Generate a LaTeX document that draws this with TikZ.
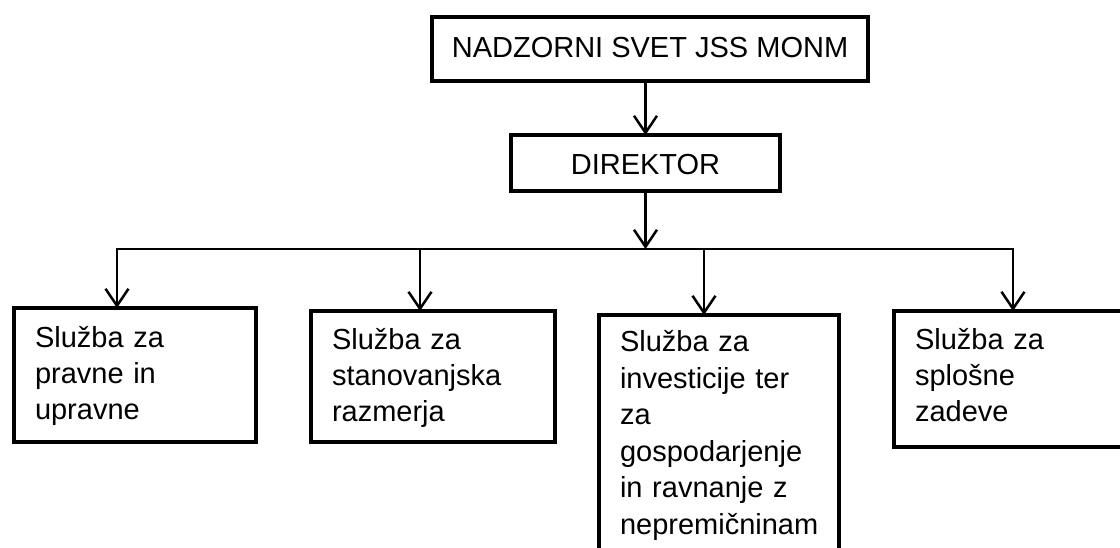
\documentclass[tikz,border=0pt]{standalone}
\usepackage{fontspec}
\setmainfont{Liberation Sans}
\usetikzlibrary{arrows.meta}
\begin{document}
\begin{tikzpicture}[x=1pt,y=-1pt,
  box/.style={draw, line width=4pt, inner sep=0pt, outer sep=0pt,
    font=\fontsize{29}{36.5}\selectfont},
  sbox/.style={box, anchor=north west, align=left, inner xsep=21pt},
  arr/.style={line width=2.5pt, -{Straight Barb[length=17pt,width=23pt,line width=2.5pt]}},
  conn/.style={line width=2.5pt, line cap=rect}]
\useasboundingbox (0,0) rectangle (1120,548);
\clip (0,0) rectangle (1120,548);

\node[box, minimum width=436pt, minimum height=64pt, text height=21pt, text depth=3pt]
  (top) at (650,49) {NADZORNI SVET JSS MONM};
\node[box, minimum width=269pt, minimum height=56pt, text height=24pt, text depth=0pt]
  (dir) at (645.5,163) {DIREKTOR};

\node[sbox, text width=200pt, text height=39pt, text depth=95pt]
  (b1) at (14,308) {Služba za\\ pravne in\\ upravne};
\node[sbox, text width=202pt, text height=38pt, text depth=93pt]
  (b2) at (311,311) {Služba za\\ stanovanjska\\ razmerja};
\node[sbox, text width=198pt, text height=37pt, text depth=218pt]
  (b3) at (599,315) {Služba za\\ investicije ter\\ za\\ gospodarjenje\\ in ravnanje z\\ nepremičninam};
\node[sbox, text width=199pt, text height=38pt, text depth=98pt]
  (b4) at (894,311) {Služba za\\ splošne\\ zadeve};

\coordinate (hl) at (117,249);
\coordinate (d2) at (420,249);
\coordinate (d3) at (704,249);
\coordinate (hr) at (1013,249);

\draw[arr] (top.south -| dir.north) -- (dir.north);
\draw[arr] (dir.south) -- (dir.south |- hl);
\draw[conn] (hl) -- (hr);
\draw[arr] (hl) -- (hl |- b1.north);
\draw[arr] (d2) -- (d2 |- b2.north);
\draw[arr] (d3) -- (d3 |- b3.north);
\draw[arr] (hr) -- (hr |- b4.north);
\end{tikzpicture}
\end{document}
